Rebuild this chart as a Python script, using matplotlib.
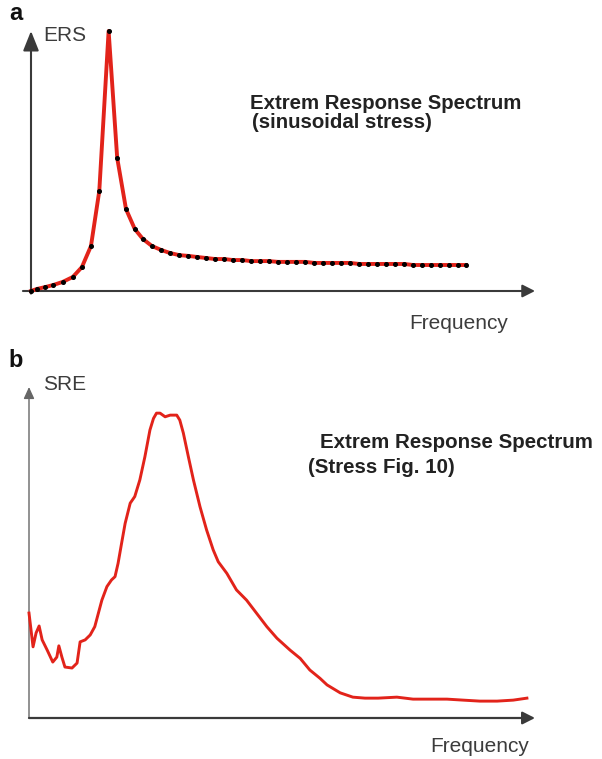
import matplotlib
matplotlib.use("Agg")
import matplotlib.pyplot as plt

plt.rcParams['font.family'] = ['Liberation Sans', 'DejaVu Sans']

# ---- Panel a: extreme response spectrum of a sinusoidal stress (arbitrary units)
ers_freq = [0.0, 1.2, 2.8, 4.4, 6.3, 8.3, 10.1, 11.9, 13.55, 15.4, 17.1, 18.85,
            20.6, 22.2, 24.0, 25.8, 27.6, 29.4, 31.2, 32.9, 34.7, 36.5, 38.3,
            40.1, 41.9, 43.7, 45.4, 47.2, 49.0, 50.8, 52.6, 54.4, 56.2, 57.9,
            59.7, 61.5, 63.3, 65.1, 66.9, 68.7, 70.4, 72.2, 74.0, 75.8, 77.6,
            79.4, 81.2, 82.9, 84.7, 86.3]
ers_value = [0.0, 0.8, 1.5, 2.3, 3.5, 5.4, 9.2, 17.3, 38.5, 100.0, 51.2, 31.5,
             23.8, 20.0, 17.3, 15.8, 14.6, 13.8, 13.5, 13.1, 12.7, 12.3, 12.3,
             11.9, 11.9, 11.5, 11.5, 11.5, 11.2, 11.2, 11.2, 11.2, 10.8, 10.8,
             10.8, 10.8, 10.8, 10.4, 10.4, 10.4, 10.4, 10.4, 10.4, 10.0, 10.0,
             10.0, 10.0, 10.0, 10.0, 10.0]

# ---- Panel b: extreme response spectrum of the measured stress (arbitrary units)
sre_freq = [0.0, 0.8, 1.4, 2.0, 2.6, 3.6, 4.7, 5.5, 5.9, 6.5, 7.1, 8.5, 9.5,
            10.1, 11.1, 12.1, 13.0, 13.7, 14.4, 15.4, 16.3, 17.0, 17.6, 18.3,
            19.0, 20.0, 20.9, 21.9, 22.9, 23.9, 24.6, 25.2, 25.9, 26.9, 27.9,
            29.2, 29.8, 30.5, 31.5, 32.5, 33.8, 35.1, 36.4, 37.4, 39.1, 41.0,
            43.0, 45.0, 47.0, 49.0, 51.6, 53.6, 55.5, 57.5, 58.9, 61.5, 64.0,
            66.4, 69.0, 72.7, 75.9, 79.2, 82.6, 85.8, 89.1, 92.5, 95.7, 98.4]
sre_value = [31.7, 21.5, 25.7, 27.8, 23.6, 20.5, 16.9, 18.4, 21.8, 18.4, 15.4,
             15.1, 16.6, 23.0, 23.6, 25.1, 27.6, 31.6, 35.6, 39.7, 41.7, 42.7,
             46.7, 52.8, 58.8, 64.9, 66.9, 71.9, 78.9, 87.0, 90.5, 92.1, 92.1,
             91.0, 91.5, 91.5, 90.0, 86.1, 78.9, 71.9, 63.8, 56.8, 50.8, 47.2,
             43.7, 38.7, 35.6, 31.6, 27.6, 24.1, 20.5, 18.0, 14.5, 12.0, 10.0,
             7.6, 6.3, 6.0, 6.0, 6.3, 5.7, 5.7, 5.7, 5.4, 5.1, 5.1, 5.4, 6.0]

W, H = 602, 759
RED = '#e2231a'
AXIS = '#3a3a3a'
TEXT = '#3c3c3c'
TITLE = '#222222'

fig = plt.figure(figsize=(W / 100, H / 100), dpi=100)


def px_axes(left, right, bottom, top):
    return fig.add_axes([left / W, 1 - bottom / H, (right - left) / W, (bottom - top) / H])


def arrow_axes(ax, x_extra, y_extra, yhead, xhead, ycol, xcol, ylw, xlw):
    ax.set_xlim(0, 100)
    ax.set_ylim(0, 100)
    ax.set_axis_off()
    # vertical axis with arrow head
    ax.annotate('', xy=(0, 1), xytext=(0, -y_extra), xycoords='axes fraction',
                arrowprops=dict(arrowstyle='-|>,head_length=%g,head_width=%g' % yhead,
                                color=ycol, lw=ylw, shrinkA=0, shrinkB=0,
                                mutation_scale=1), annotation_clip=False)
    # horizontal axis with arrow head
    ax.annotate('', xy=(1, 0), xytext=(-x_extra, 0), xycoords='axes fraction',
                arrowprops=dict(arrowstyle='-|>,head_length=%g,head_width=%g' % xhead,
                                color=xcol, lw=xlw, shrinkA=0, shrinkB=0,
                                mutation_scale=1), annotation_clip=False)


def ftext(x, y, s, **kw):
    fig.text(x / W, 1 - y / H, s, va='baseline', ha='left', **kw)


# Panel a
ax_a = px_axes(31, 535, 291, 31)
arrow_axes(ax_a, 0.016, 0.01, (12, 4.8), (7.5, 3.8), AXIS, AXIS, 1.5, 1.5)
ax_a.plot(ers_freq, ers_value, color=RED, lw=2.8, zorder=3, clip_on=False,
          solid_joinstyle='round')
ax_a.plot(ers_freq, ers_value, ls='none', marker='o', ms=2.6, color='black',
          zorder=4, clip_on=False)

ftext(9, 20, 'a', fontsize=17, fontweight='bold', color='#111111')
ftext(43, 41, 'ERS', fontsize=15, color=TEXT)
ftext(250, 109, 'Extrem Response Spectrum', fontsize=14.7, fontweight='bold', color=TITLE)
ftext(252, 128, '(sinusoidal stress)', fontsize=14.7, fontweight='bold', color=TITLE)
ftext(409, 329, 'Frequency', fontsize=15, color=TEXT)

# Panel b
ax_b = px_axes(29, 535, 718, 387)
arrow_axes(ax_b, 0.0, 0.0, (7, 3.2), (7.5, 3.8), '#666666', AXIS, 1.0, 1.6)
ax_b.plot(sre_freq, sre_value, color=RED, lw=2.1, zorder=3, clip_on=False,
          solid_joinstyle='round')

ftext(8, 367, 'b', fontsize=17, fontweight='bold', color='#111111')
ftext(43, 390, 'SRE', fontsize=15, color=TEXT)
ftext(320, 448, 'Extrem Response Spectrum', fontsize=14.8, fontweight='bold', color=TITLE)
ftext(308, 473, '(Stress Fig. 10)', fontsize=14.8, fontweight='bold', color=TITLE)
ftext(430, 752, 'Frequency', fontsize=15, color=TEXT)

fig.savefig('out.png', dpi=100, facecolor='white')
